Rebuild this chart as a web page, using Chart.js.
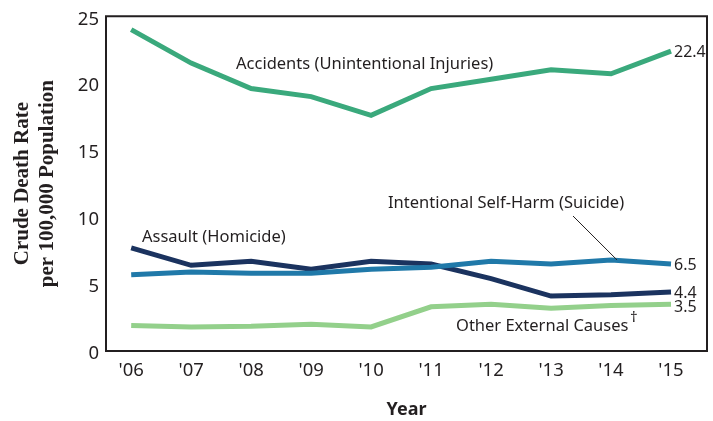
<!DOCTYPE html>
<html>
<head>
<meta charset="utf-8">
<script src="https://cdn.jsdelivr.net/npm/chart.js@4"></script>
<style>
  html, body { margin: 0; padding: 0; background: #fff; }
  #wrap { width: 713px; height: 421px; position: relative; }
</style>
</head>
<body>
<div id="wrap"><canvas id="chart"></canvas></div>
<script>
// Crude death rates per 100,000, injury-related causes
const years = [2006, 2007, 2008, 2009, 2010, 2011, 2012, 2013, 2014, 2015];
const yearLabels = ["'06", "'07", "'08", "'09", "'10", "'11", "'12", "'13", "'14", "'15"];
const accidents = [24.0, 21.5, 19.6, 19.0, 17.6, 19.6, 20.3, 21.0, 20.7, 22.4];
const suicide = [5.7, 5.9, 5.8, 5.8, 6.1, 6.25, 6.7, 6.5, 6.8, 6.5];
const assault = [7.7, 6.4, 6.7, 6.1, 6.7, 6.5, 5.4, 4.1, 4.2, 4.4];
const otherExt = [1.9, 1.8, 1.85, 2.0, 1.8, 3.3, 3.5, 3.2, 3.4, 3.5];
const yTicks = [0, 5, 10, 15, 20, 25];

const SANS = "'Noto Sans', 'Open Sans', sans-serif";
const INK = "#231f20";

function pts(vals) {
  return vals.map((v, i) => ({ x: years[i], y: v }));
}

// frame, series labels, end values and the suicide leader line
const notesPlugin = {
  id: "notes",
  afterDatasetsDraw(chart) {
    const { ctx, chartArea: a } = chart;
    const xs = chart.scales.x;
    const ys = chart.scales.y;
    ctx.save();

    ctx.strokeStyle = INK;
    ctx.lineWidth = 2;
    ctx.strokeRect(a.left, a.top, a.right - a.left, a.bottom - a.top);

    ctx.fillStyle = INK;
    ctx.font = "16.5px " + SANS;
    ctx.textBaseline = "middle";
    ctx.textAlign = "left";
    ctx.fillText("Accidents (Unintentional Injuries)", 236, 64);
    ctx.fillText("Intentional Self-Harm (Suicide)", 388, 203);
    ctx.fillText("Assault (Homicide)", 142, 237);
    ctx.fillText("Other External Causes", 456, 326);
    ctx.font = "15px " + SANS;
    ctx.fillText("\u2020", 630, 318);

    // end values
    ctx.font = "16px " + SANS;
    const n = years.length - 1;
    const lastX = xs.getPixelForValue(years[n]) + 3;
    ctx.fillText(String(accidents[n]), lastX, ys.getPixelForValue(accidents[n]) + 1);
    ctx.fillText(String(suicide[n]), lastX, ys.getPixelForValue(suicide[n]) + 1);
    ctx.fillText(String(assault[n]), lastX, ys.getPixelForValue(assault[n]) + 1);
    ctx.fillText(String(otherExt[n]), lastX, ys.getPixelForValue(otherExt[n]) + 3);

    // leader line
    ctx.lineWidth = 1;
    ctx.beginPath();
    ctx.moveTo(573, 216);
    ctx.lineTo(xs.getPixelForValue(2014.1), ys.getPixelForValue(6.8));
    ctx.stroke();
    ctx.restore();
  },
};

const lineStyle = { borderWidth: 5, pointRadius: 0, tension: 0, fill: false, borderJoinStyle: "miter" };

new Chart(document.getElementById("chart"), {
  type: "line",
  data: {
    datasets: [
      { label: "Accidents (Unintentional Injuries)", data: pts(accidents), borderColor: "#3aa97c", ...lineStyle },
      { label: "Other External Causes", data: pts(otherExt), borderColor: "#93d08b", ...lineStyle },
      { label: "Intentional Self-Harm (Suicide)", data: pts(suicide), borderColor: "#2079a9", ...lineStyle },
      { label: "Assault (Homicide)", data: pts(assault), borderColor: "#1b335f", ...lineStyle },
    ],
  },
  options: {
    responsive: true,
    maintainAspectRatio: false,
    animation: false,
    layout: { padding: { top: 14, right: 6, left: 10, bottom: 0 } },
    plugins: {
      legend: { display: false },
      tooltip: { enabled: false },
    },
    scales: {
      x: {
        type: "linear",
        min: 2005.58,
        max: 2015.6,
        afterBuildTicks(axis) { axis.ticks = years.map((v) => ({ value: v })); },
        afterFit(axis) { axis.height = 70; },
        grid: { display: false, drawTicks: false },
        border: { display: false },
        ticks: {
          font: { family: SANS, size: 18.5 },
          color: INK,
          padding: 9,
          maxRotation: 0,
          autoSkip: false,
          callback: (v) => yearLabels[years.indexOf(v)] ?? "",
        },
        title: {
          display: true,
          text: "Year",
          font: { family: SANS, size: 18, weight: "bold" },
          color: INK,
          padding: { top: 13, bottom: 0 },
        },
      },
      y: {
        min: 0,
        max: 25,
        afterBuildTicks(axis) { axis.ticks = yTicks.map((v) => ({ value: v })); },
        afterFit(axis) { axis.width = 96; },
        grid: { display: false, drawTicks: false },
        border: { display: false },
        ticks: {
          font: { family: SANS, size: 18.5, lineHeight: 1 },
          color: INK,
          padding: 7,
          labelOffset: 3,
        },
        title: {
          display: true,
          text: ["Crude Death Rate", "per 100,000 Population"],
          font: { family: "'Liberation Serif', 'DejaVu Serif', serif", size: 21, weight: "bold" },
          color: INK,
          lineHeight: 1.3,
          padding: { top: 0, bottom: 0 },
        },
      },
    },
  },
  plugins: [notesPlugin],
});
</script>
</body>
</html>
